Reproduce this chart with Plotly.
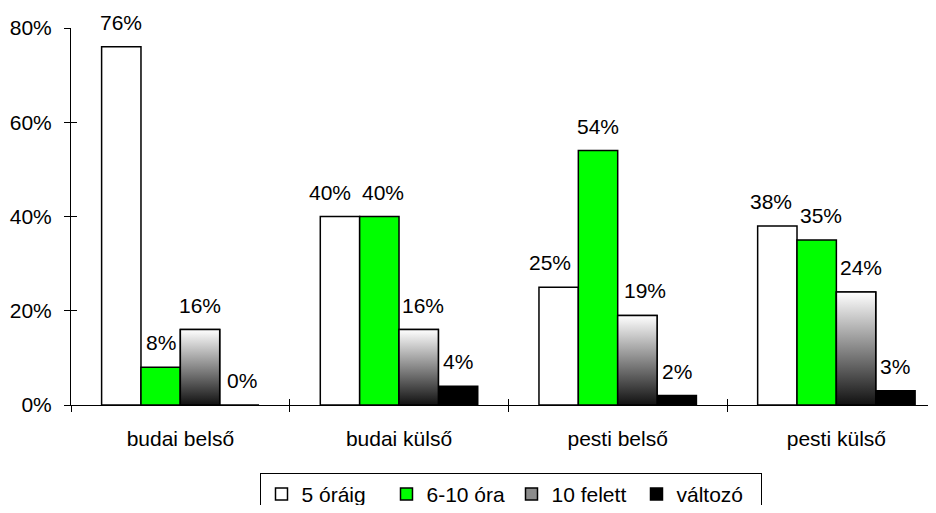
import plotly.graph_objects as go

# ── Data ─────────────────────────────────────────────────────────────────────
categories = ["budai belső", "budai külső", "pesti belső", "pesti külső"]
series_names = ["5 óráig", "6-10 óra", "10 felett", "változó"]
s_5_oraig = [76, 40, 25, 38]
s_6_10_ora = [8, 40, 54, 35]
s_10_felett = [16, 16, 19, 24]
s_valtozo = [0, 4, 2, 3]
y_ticks = [0, 20, 40, 60, 80]
y_tick_text = ["0%", "20%", "40%", "60%", "80%"]

values = [s_5_oraig, s_6_10_ora, s_10_felett, s_valtozo]
colors = ["#ffffff", "#00ff00", "#8c8c8c", "#000000"]

FONT = "Liberation Sans, Arial, sans-serif"
FS = 21
BARGAP = 0.28
n_ser = len(series_names)
bw = (1 - BARGAP) / n_ser  # bar width in category units
# the original chart is cut off on the right, inside the last category
X_RANGE = [-0.5, 3.419]

# hand-nudged labels in the original (series idx, category idx) -> px
LABEL_NUDGE = {(0, 1): -10, (1, 1): 4, (2, 1): 4, (0, 2): -9, (2, 2): 8,
               (0, 3): -6, (1, 3): 4, (2, 3): 5, (3, 0): 3}

fig = go.Figure()

for name, vals, clr in zip(series_names, values, colors):
    fig.add_trace(go.Bar(
        x=categories, y=vals, name=name,
        marker=dict(color=clr, line=dict(color="black", width=1.5)),
    ))

# gradient fill for the "10 felett" bars, drawn over the grey bars
gi = series_names.index("10 felett")
for i, v in enumerate(s_10_felett):
    x0 = i - (1 - BARGAP) / 2 + gi * bw
    x1 = x0 + bw
    fig.add_trace(go.Scatter(
        x=[x0, x0, x1, x1, x0], y=[0, v, v, 0, 0],
        xaxis="x2", yaxis="y2",
        mode="lines", fill="toself",
        line=dict(color="black", width=1.5),
        fillgradient=dict(type="vertical",
                          colorscale=[[0, "#111111"], [1, "#ffffff"]]),
        showlegend=False, hoverinfo="skip",
    ))

# value labels
for k, vals in enumerate(values):
    for i, v in enumerate(vals):
        fig.add_annotation(
            x=i - (1 - BARGAP) / 2 + (k + 0.5) * bw, y=v,
            xref="x2", yref="y2",
            text=f"{v}%", showarrow=False,
            yanchor="bottom", yshift=11, xshift=LABEL_NUDGE.get((k, i), 0),
            font=dict(family=FONT, size=FS, color="black"),
        )

fig.update_layout(
    barmode="group", bargap=BARGAP, bargroupgap=0,
    width=920, height=497,
    paper_bgcolor="white", plot_bgcolor="white",
    margin=dict(l=63, r=0, t=20, b=100, autoexpand=False),
    font=dict(family=FONT, size=FS, color="black"),
    showlegend=True,
    legend=dict(
        orientation="h", x=0.514, xanchor="center", y=-0.18, yanchor="top",
        bordercolor="black", borderwidth=1, font=dict(size=FS),
        traceorder="normal", entrywidth=80,
    ),
    xaxis=dict(
        type="category", range=X_RANGE, tickson="boundaries",
        ticks="outside", ticklen=6,
        tickcolor="black", showline=True, linecolor="black", linewidth=1,
        showgrid=False, ticklabelstandoff=15,
    ),
    yaxis=dict(
        range=[0, 80], tickvals=y_ticks, ticktext=y_tick_text,
        ticks="outside", ticklen=6, tickcolor="black", showline=True,
        linecolor="black", linewidth=1, showgrid=False, zeroline=False,
        ticklabelstandoff=8,
    ),
    xaxis2=dict(
        overlaying="x", anchor="y2", range=X_RANGE,
        tickvals=[i - 0.5 for i in range(len(categories) + 1)],
        ticks="inside", ticklen=6, tickcolor="black",
        showticklabels=False, showgrid=False, zeroline=False, showline=False,
    ),
    yaxis2=dict(
        overlaying="y", anchor="x2", side="left", range=[0, 80],
        tickvals=y_ticks, ticks="inside", ticklen=6, tickcolor="black",
        showticklabels=False, showgrid=False, zeroline=False, showline=False,
    ),
)

fig.write_html("out.html")
